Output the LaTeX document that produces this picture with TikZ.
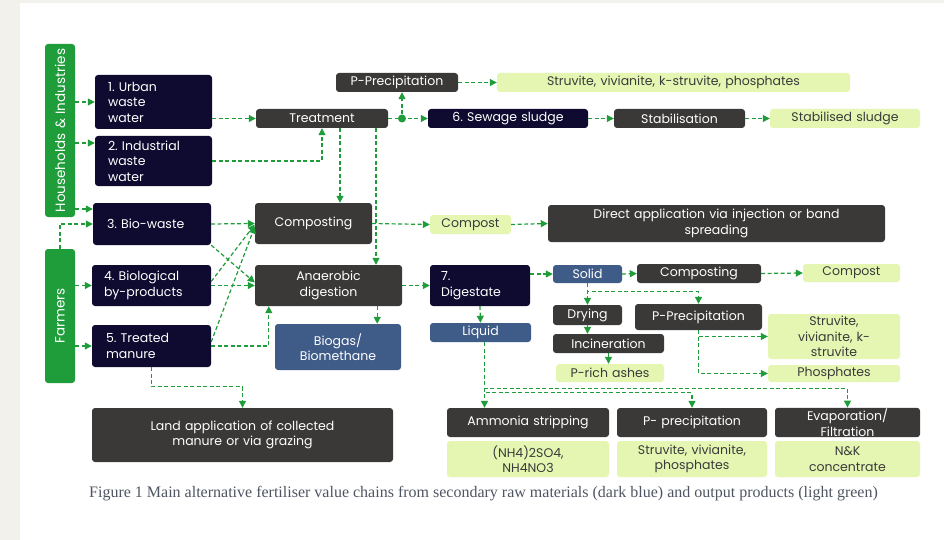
\documentclass[tikz,border=0pt]{standalone}
\usepackage{fontspec}
\setmainfont{Poppins}
\newfontfamily\capfont{Liberation Serif}
\usepackage{graphicx}
\usepackage{xcolor}
\usepackage{tikz}
\usetikzlibrary{arrows.meta}
\frenchspacing
\definecolor{cNavy}{HTML}{0E0A30}
\definecolor{cGrey}{HTML}{3B3938}
\definecolor{cSlate}{HTML}{3F5B87}
\definecolor{cLime}{HTML}{E5F6B3}
\definecolor{cGreen}{HTML}{1F9D3A}
\definecolor{cInk}{HTML}{3A3A3A}
\definecolor{cPaper}{HTML}{F3F1EC}
\definecolor{cCaption}{HTML}{4F5562}
% box from its corners: [pad]{style}{name}{x1}{y1}{x2}{y2}{text}
\newcommand{\chainbox}[8][3]{%
\pgfmathsetmacro{\cbw}{#6-#4}%
\pgfmathsetmacro{\cbh}{#7-#5}%
\pgfmathsetmacro{\cbx}{(#4+#6)/2}%
\pgfmathsetmacro{\cby}{(#5+#7)/2}%
\pgfmathsetmacro{\cbt}{#6-#4-2*#1}%
 \node[#2, inner xsep=#1pt, text width=\cbt pt, minimum width=\cbw pt, minimum height=\cbh pt] (#3) at (\cbx,\cby) {#8};}

\begin{document}
\begin{tikzpicture}[x=1pt, y=-1pt,
 base/.style={font=\fontsize{12.5}{15.5}\selectfont, rounded corners=3pt, inner ysep=1pt},
 src/.style={base, fill=cNavy, text=white, align=left},
 proc/.style={base, fill=cGrey, text=white, align=center},
 part/.style={base, fill=cSlate, text=white, align=center},
 prod/.style={base, fill=cLime, text=cInk, align=center},
 bar/.style={base, fill=cGreen, text=white, align=center, font=\fontsize{13.5}{15}\selectfont},
 flow/.style={draw=cGreen, line width=1.2pt, dash pattern=on 4pt off 2.5pt, -{Triangle[length=7pt,width=7pt]}},
 jdot/.style={circle, fill=cGreen, inner sep=0pt, minimum size=8pt}]
\fill[cPaper] (0,0) rectangle (944,540);
\fill[white] (20,3) rectangle (944,540);
% sources
\chainbox[2]{bar}{hh}{45}{44}{75}{217}{\rotatebox{90}{Households \& Industries}}
\chainbox[2]{bar}{fa}{45}{249}{75}{383}{\rotatebox{90}{Farmers}}
\chainbox[13]{src}{urban}{95}{75}{212}{129}{1. Urban\\waste\\water}
\chainbox[13]{src}{indus}{95}{136}{212}{186}{2. Industrial\\waste\\water}
\chainbox[14]{src}{biow}{93}{203}{211}{245}{3. Bio-waste}
\chainbox[12]{src}{bioby}{92}{265}{211}{306}{4. Biological\\by-products}
\chainbox[14]{src}{manure}{92}{325}{211}{367}{5. Treated\\manure}
% waste water line
\chainbox{proc}{treat}{256}{109}{388}{128}{Treatment}
\chainbox{proc}{pprec}{336}{73}{458}{92}{P-Precipitation}
\chainbox{prod}{struv}{497}{73}{850}{92}{Struvite, vivianite, k-struvite, phosphates}
\chainbox{src, align=center}{sludge}{428}{109}{588}{128}{6. Sewage sludge}
\chainbox{proc}{stab}{614}{109}{745}{128}{Stabilisation}
\chainbox{prod}{stabs}{770}{109}{920}{128}{Stabilised sludge}
\node[jdot] (jn) at (402,118.5) {};
% bio line
\chainbox{proc}{compo}{255}{203}{372}{244}{Composting}
\chainbox{proc}{anad}{255}{265}{402}{306}{Anaerobic\\digestion}
\chainbox{part}{biogas}{275}{324}{401}{370}{Biogas/\\Biomethane}
\chainbox{prod}{compost}{430}{215}{511}{234}{Compost}
\chainbox{proc}{direct}{548}{205}{885}{242}{Direct application via injection or band\\spreading}
% digestate
\chainbox[11]{src}{dige}{430}{265}{530}{306}{7.\\Digestate}
\chainbox{part}{liquid}{430}{323}{531}{342}{Liquid}
\chainbox{part}{solid}{553}{265}{622}{283}{Solid}
\chainbox{proc}{compo2}{637}{264}{761}{283}{Composting}
\chainbox{prod}{compost2}{803}{264}{900}{282}{Compost}
\chainbox{proc}{drying}{553}{305}{622}{325}{Drying}
\chainbox{proc}{pprec2}{635}{304}{762}{330}{P-Precipitation}
\chainbox{proc}{incin}{553}{334}{664}{353}{Incineration}
\chainbox{prod}{ashes}{556}{364}{664}{382}{P-rich ashes}
\chainbox{prod}{struv2}{768}{314}{900}{359}{Struvite,\\vivianite, k-\\struvite}
\chainbox{prod}{phos}{768}{365}{900}{382}{Phosphates}
% bottom row
\chainbox{proc}{land}{92}{408}{393}{462}{Land application of collected\\manure or via grazing}
\chainbox{proc}{ammon}{447}{408}{609}{437}{Ammonia stripping}
\chainbox{prod}{ammonout}{447}{441}{609}{477}{(NH4)2SO4,\\NH4NO3}
\chainbox{proc}{pprec3}{617}{408}{767}{437}{P- precipitation}
\chainbox{prod}{pprecout}{617}{441}{767}{477}{Struvite, vivianite,\\phosphates}
\chainbox{proc}{evap}{775}{408}{920}{437}{\fontsize{12.5}{13.5}\selectfont Evaporation/\\Filtration}
\chainbox{prod}{evapout}{775}{441}{920}{477}{N\&K\\concentrate}
\node[font=\capfont\fontsize{16}{18}\selectfont, text=cCaption] (cap) at (483.5,494) {Figure 1 Main alternative fertiliser value chains from secondary raw materials (dark blue) and output products (light green)};
% flows
\draw[flow] (hh.east |- urban.west) -- (urban.west);
\draw[flow] ([yshift=18pt]hh.east |- indus.west) -- ([yshift=18pt]indus.west);
\draw[flow] ([yshift=15pt]hh.east |- biow.west) -- ([yshift=15pt]biow.west);
\draw[flow] (fa.north) |- (biow.west);
\draw[flow] (fa.east |- bioby.west) -- (bioby.west);
\draw[flow] (fa.east |- manure.west) -- (manure.west);
\draw[flow] (urban.east |- treat.west) -- (treat.west);
\draw[flow] (indus.east) -| (treat.south);
\draw[flow] ([xshift=18pt]treat.south) -- ([xshift=18pt]treat.south |- compo.north);
\draw[flow] ([xshift=54pt]treat.south) -- ([xshift=54pt]treat.south |- anad.north);
\draw[flow] (treat.east) -- (sludge.west);
\draw[flow] (jn) -- (jn |- pprec.south);
\draw[flow] (pprec.east) -- (struv.west);
\draw[flow] (sludge.east) -- (stab.west);
\draw[flow] (stab.east) -- (stabs.west);
\draw[flow] (biow.east) -- (compo.west);
\draw[flow] (biow.south east) -- ([yshift=3pt]anad.west);
\draw[flow] ([yshift=4pt]bioby.east) -- ([yshift=-1pt]compo.west);
\draw[flow] (bioby.east) -- (anad.west);
\draw[flow] ([yshift=4pt]manure.east) -- ([yshift=-3pt]compo.west);
\draw[flow] (manure.east) -| ([xshift=14pt]anad.south west);
\draw[flow] ([xshift=-25pt]anad.south east) -- ([xshift=-25pt]anad.south east |- biogas.north);
\draw[flow] (anad.east) -- (dige.west);
\draw[flow] (compo.east) -- (compost.west);
\draw[flow] (compost.east) -- (direct.west);
\draw[flow] (dige.south) -- (liquid.north);
\draw[flow] (dige.east |- solid.west) -- (solid.west);
\draw[flow] (solid.east) -- (compo2.west);
\draw[flow] (compo2.east) -- (compost2.west);
\draw[flow] (solid.south) -- (drying.north);
\draw[flow] (solid.south) |- ([yshift=12pt]pprec2.north) -- (pprec2.north);
\draw[flow] (drying.south) -- (drying.south |- incin.north);
\draw[flow] (incin.south) -- (incin.south |- ashes.north);
\draw[flow] (pprec2.south) |- (struv2.west);
\draw[flow] (pprec2.south) |- (phos.west);
\draw[flow] ([xshift=4pt]liquid.south) -- ([xshift=4pt]liquid.south |- ammon.north);
\draw[flow] ([xshift=4pt]liquid.south) |- ([yshift=15pt]pprec3.north) -- (pprec3.north);
\draw[flow] ([xshift=4pt]liquid.south) |- ([yshift=19pt]evap.north) -- (evap.north);
\draw[flow] (manure.south) |- ([yshift=21pt]land.north) -- (land.north);
\end{tikzpicture}
\end{document}
